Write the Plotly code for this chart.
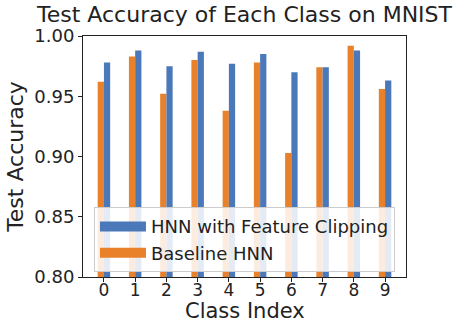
import plotly.graph_objects as go

classes = list(range(10))
baseline_hnn = [0.962, 0.983, 0.952, 0.980, 0.938, 0.978, 0.903, 0.974, 0.992, 0.956]
clipping_hnn = [0.978, 0.988, 0.975, 0.987, 0.977, 0.985, 0.970, 0.974, 0.988, 0.963]
y_ticks = [0.80, 0.85, 0.90, 0.95, 1.00]

BLUE = "#4a78b8"
ORANGE = "#e8812a"
FONT = "DejaVu Sans"
INK = "#222"

fig = go.Figure()
fig.add_trace(go.Bar(x=classes, y=baseline_hnn, marker_color=ORANGE,
                     marker_line_width=0, showlegend=False))
fig.add_trace(go.Bar(x=classes, y=clipping_hnn, marker_color=BLUE,
                     marker_line_width=0, showlegend=False))

# legend entries drawn as wide colour patches
fig.add_trace(go.Scatter(x=[None], y=[None], mode="lines", name="HNN with Feature Clipping",
                         line=dict(color=BLUE, width=12)))
fig.add_trace(go.Scatter(x=[None], y=[None], mode="lines", name="Baseline HNN",
                         line=dict(color=ORANGE, width=12)))

axis_common = dict(showline=True, linecolor=INK, linewidth=1, mirror=True,
                   ticks="outside", ticklen=4, tickcolor=INK, showgrid=False,
                   zeroline=False, automargin=False)

fig.update_layout(
    width=463, height=325,
    margin=dict(l=83, r=57, t=36, b=48),
    paper_bgcolor="white", plot_bgcolor="white",
    barmode="group", bargap=0.6, bargroupgap=0,
    title=dict(text="Test Accuracy of Each Class on MNIST", x=(83 + 406) / 2 / 463,
               xanchor="center", y=1 - 14 / 325, yanchor="middle",
               font=dict(family=FONT, size=22, color=INK)),
    legend=dict(x=0.034, y=0.02, xanchor="left", yanchor="bottom",
                bgcolor="rgba(255,255,255,0.85)", bordercolor="#cccccc", borderwidth=1,
                itemwidth=46,
                font=dict(family=FONT, size=18, color=INK), tracegroupgap=0),
    xaxis=dict(range=[-0.67, 9.67], tickvals=classes, ticktext=[str(c) for c in classes],
               ticklabelstandoff=-6, tickfont=dict(family=FONT, size=17, color=INK),
               **axis_common),
    yaxis=dict(range=[0.80, 1.00], tickvals=y_ticks, ticktext=[f"{v:.2f}" for v in y_ticks],
               tickfont=dict(family=FONT, size=18, color=INK),
               title=dict(text="Test Accuracy", font=dict(family=FONT, size=22, color=INK),
                          standoff=4),
               **axis_common),
    annotations=[dict(text="Class Index", xref="paper", yref="paper", x=0.5,
                      y=-48 / 241, xanchor="center", yanchor="bottom",
                      showarrow=False, font=dict(family=FONT, size=21, color=INK))],
)

fig.write_html("out.html")
